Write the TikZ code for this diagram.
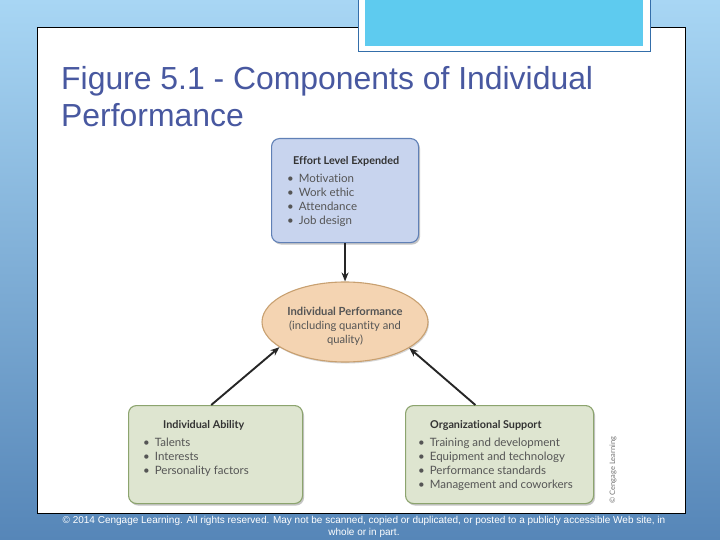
\documentclass[tikz,border=0pt]{standalone}
\usepackage{fontspec}
\setmainfont{Liberation Sans}
\newfontfamily\figfont[Ligatures=NoCommon]{Lato}
\usetikzlibrary{positioning,arrows.meta,shapes.geometric,shadows}

\definecolor{bgtop}{RGB}{168,214,244}
\definecolor{bgbot}{RGB}{86,134,184}
\definecolor{tabfill}{RGB}{94,203,239}
\definecolor{tabline}{RGB}{52,110,170}
\definecolor{headblue}{RGB}{72,88,160}
\definecolor{effortfill}{RGB}{200,212,238}
\definecolor{effortline}{RGB}{96,128,182}
\definecolor{perffill}{RGB}{244,212,178}
\definecolor{perfline}{RGB}{200,160,112}
\definecolor{greenfill}{RGB}{222,229,208}
\definecolor{greenline}{RGB}{140,164,110}
\definecolor{figtext}{RGB}{85,85,85}

\newcommand\itm{\textbullet\hspace{5pt}}

\tikzset{
  panel/.style       = {draw=black, fill=white, line width=0.9pt},
  card/.style        = {draw, rounded corners=8pt, line width=1.1pt, inner sep=0pt,
                        drop shadow={shadow xshift=1.5pt, shadow yshift=-2pt,
                                     fill=black!45, opacity=0.5}},
  effortcard/.style  = {card, draw=effortline, fill=effortfill,
                        minimum width=147pt, minimum height=104pt},
  greencard/.style   = {card, draw=greenline, fill=greenfill, minimum height=98pt},
  perf/.style        = {ellipse, draw=perfline, fill=perffill, line width=1.1pt,
                        minimum width=166pt, minimum height=80pt, inner sep=0pt,
                        align=center, text=figtext,
                        font=\figfont\fontsize{11.2}{14}\selectfont,
                        drop shadow={shadow xshift=1pt, shadow yshift=-1.5pt,
                                     fill=black!40, opacity=0.4}},
  cardhead/.style    = {font=\figfont\bfseries\fontsize{10.8}{12}\selectfont,
                        text=black!80, inner sep=0pt},
  cardlist/.style    = {font=\figfont\fontsize{11.5}{14}\selectfont,
                        text=figtext, align=left, inner sep=0pt},
  heading/.style     = {font=\fontsize{31.9}{37}\selectfont, text=headblue, inner sep=0pt},
  footer/.style      = {font=\fontsize{10}{12}\selectfont, text=white, align=center, inner sep=0pt},
  credit/.style      = {font=\figfont\fontsize{7.5}{8}\selectfont, text=black!55, inner sep=0pt},
  link/.style        = {-{Stealth[length=9pt,width=7pt]}, line width=1.9pt, draw=black!85}
}

\begin{document}
\begin{tikzpicture}[x=1pt, y=-1pt]
  \useasboundingbox (0,0) rectangle (720,540);

  % slide background, white panel and top tab
  \shade[top color=bgtop, bottom color=bgbot] (0,0) rectangle (720,540);
  \draw[panel] (37,27) rectangle (685,513);
  \draw[draw=tabline, fill=white, line width=1pt] (358,-5) rectangle (650,52);
  \fill[tabfill] (365,-5) rectangle (643,46);

  % slide title
  \node[heading, anchor=base west] (title1) at (61,90) {Figure 5.1 - Components of Individual};
  \node[heading, anchor=base west] (title2) at (61,127) {Performance};

  % three component boxes and the centre ellipse
  \node[effortcard, anchor=north west] (effort) at (271,138) {};
  \node[cardhead, below right=18pt and 22pt of effort.north west] (effort-head) {Effort Level Expended};
  \node[cardlist, below right=36pt and 16pt of effort.north west] (effort-list)
    {\itm Motivation\\ \itm Work ethic\\ \itm Attendance\\ \itm Job design};

  \node[perf] (perf) at (345,322) {};
  \node[cardlist, align=center, font=\figfont\fontsize{11.2}{14}\selectfont] (perf-text) at (345,326)
    {\textbf{Individual Performance}\\(including quantity and\\quality)};

  \node[greencard, minimum width=174pt, anchor=north west] (ability) at (128,405) {};
  \node[cardhead, below right=15pt and 35pt of ability.north west] (ability-head) {Individual Ability};
  \node[cardlist, below right=33pt and 15pt of ability.north west] (ability-list)
    {\itm Talents\\ \itm Interests\\ \itm Personality factors};

  \node[greencard, minimum width=188pt, anchor=north west] (org) at (405,405) {};
  \node[cardhead, below right=15pt and 25pt of org.north west] (org-head) {Organizational Support};
  \node[cardlist, below right=33pt and 13pt of org.north west] (org-list)
    {\itm Training and development\\ \itm Equipment and technology\\
     \itm Performance standards\\ \itm Management and coworkers};

  % arrows into the ellipse
  \draw[link] (effort.south) -- (effort.south |- perf.north);
  \draw[link] (ability.95) -- (perf.201);
  \draw[link] (org.116) -- (perf.338);

  % credit line and footer
  \node[credit, rotate=90] (credit) at (613,470) {\copyright{} Cengage Learning};
  \node[footer] (foot) at (364,527)
    {\copyright{} 2014 Cengage Learning. All rights reserved. May not be scanned, copied or duplicated, or posted to a publicly accessible Web site, in\\whole or in part.};

\end{tikzpicture}
\end{document}
